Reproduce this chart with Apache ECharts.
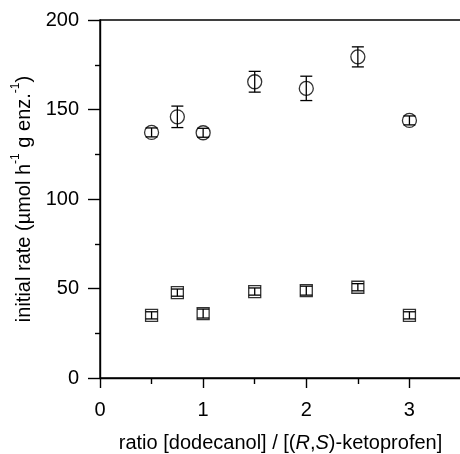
<!DOCTYPE html>
<html><head><meta charset="utf-8">
<script src="https://cdn.jsdelivr.net/npm/echarts@6/dist/echarts.min.js"></script>
<style>html,body{margin:0;padding:0;background:#fff}#c{width:460px;height:454px}</style>
</head><body><div id="c"></div>
<script>
const ratios = [0.5, 0.75, 1, 1.5, 2, 2.5, 3];
const circleRate = [137.2, 145.9, 137.0, 165.5, 161.8, 179.4, 143.9];
const circleErr = [2.5, 6.0, 2.5, 5.8, 6.8, 5.6, 2.5];
const squareRate = [35.0, 47.7, 36.0, 48.3, 48.8, 50.7, 35.0];
const squareErr = [2.0, 2.0, 2.5, 2.0, 2.5, 2.0, 2.0];
const xTicks = [0, 1, 2, 3];
const xMinorTicks = [0.5, 1.5, 2.5];
const yTicks = [0, 50, 100, 150, 200];

const FONT = 'Liberation Sans';
function pts(ys){ return ratios.map((x,i)=>[x, ys[i]]); }
function errData(ys, es){ return ratios.map((x,i)=>[x, ys[i]-es[i], ys[i]+es[i]]); }
function errRender(params, api){
  const x = api.value(0);
  const lo = api.coord([x, api.value(1)]);
  const hi = api.coord([x, api.value(2)]);
  const hw = 6;
  const st = {stroke:'#000', lineWidth:1.3};
  return {type:'group', children:[
    {type:'line', shape:{x1:lo[0],y1:lo[1],x2:hi[0],y2:hi[1]}, style:st},
    {type:'line', shape:{x1:lo[0]-hw,y1:lo[1],x2:lo[0]+hw,y2:lo[1]}, style:st},
    {type:'line', shape:{x1:hi[0]-hw,y1:hi[1],x2:hi[0]+hw,y2:hi[1]}, style:st}
  ]};
}
const ax = {color:'#000', width:1.4};
const chart = echarts.init(document.getElementById('c'));
chart.setOption({
  animation:false,
  backgroundColor:'#fff',
  grid:{left:100, right:-1, top:20, bottom:76, show:true, borderColor:'#000', borderWidth:1.4,
        outerBoundsMode:'none', containLabel:false},
  xAxis:[{
    type:'value', min:0, max:3.5, interval:1,
    axisLine:{lineStyle:ax},
    axisTick:{length:10, customValues:xTicks, lineStyle:ax},
    splitLine:{show:false},
    axisLabel:{color:'#000', fontFamily:FONT, fontSize:20, margin:22, customValues:xTicks},
    name:'ratio [dodecanol] / [({i|R},{i|S})-ketoprofen]',
    nameLocation:'middle', nameGap:55,
    nameTextStyle:{color:'#000', fontFamily:FONT, fontSize:20,
      rich:{i:{fontStyle:'italic', fontFamily:FONT, fontSize:20, color:'#000'}}}
  },{
    type:'value', min:0, max:3.5, position:'bottom',
    axisLine:{show:false},
    axisTick:{length:6, customValues:xMinorTicks, lineStyle:ax},
    axisLabel:{show:false},
    splitLine:{show:false}
  }],
  yAxis:{
    type:'value', min:0, max:200, interval:50,
    axisLine:{lineStyle:ax},
    axisTick:{length:12, lineStyle:ax},
    minorTick:{show:true, splitNumber:2, length:5, lineStyle:ax},
    splitLine:{show:false},
    axisLabel:{color:'#000', fontFamily:FONT, fontSize:20, margin:21,
      formatter:v=> yTicks.includes(v) ? String(v) : ''},
    name:'{n|initial rate (µmol h}{s|-1}{n| g enz.}{s|-1}{n|)}',
    nameLocation:'middle', nameGap:66,
    nameTextStyle:{color:'#000', fontFamily:FONT, fontSize:20,
      rich:{n:{fontFamily:FONT, fontSize:20, color:'#000', lineHeight:24, verticalAlign:'bottom'},
            s:{fontFamily:FONT, fontSize:12, color:'#000', lineHeight:24, verticalAlign:'top'}}}
  },
  series:[
    {type:'custom', renderItem:errRender, data:errData(circleRate, circleErr), z:3},
    {type:'custom', renderItem:errRender, data:errData(squareRate, squareErr), z:3},
    {type:'scatter', data:pts(circleRate), symbol:'circle', symbolSize:14,
     itemStyle:{color:'rgba(0,0,0,0)', borderColor:'#000', borderWidth:1.3}, z:4},
    {type:'scatter', data:pts(squareRate), symbol:'rect', symbolSize:12,
     itemStyle:{color:'rgba(0,0,0,0)', borderColor:'#000', borderWidth:1.3}, z:4}
  ]
});
</script></body></html>
